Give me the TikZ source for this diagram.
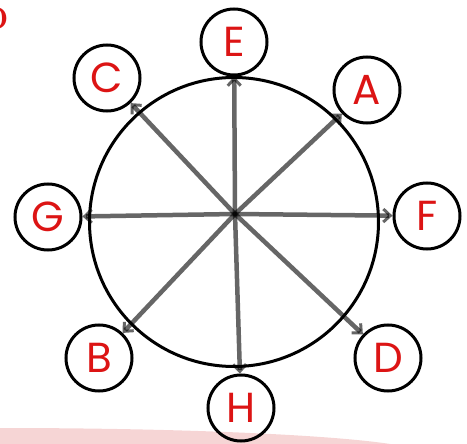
\documentclass[tikz,border=0pt]{standalone}
\usepackage{fontspec}
\newfontfamily\hand{Poppins}
\usetikzlibrary{arrows.meta,backgrounds}
\definecolor{letred}{RGB}{220,20,20}
\definecolor{bandpink}{RGB}{246,213,213}
\begin{document}
\begin{tikzpicture}[x=1pt,y=-1pt,
  ring/.style={circle,draw=black,line width=3pt,minimum size=66pt,inner sep=0pt,
    font=\hand\fontsize{42}{42}\selectfont,text=letred},
  bigring/.style={circle,draw=black,line width=3pt,minimum size=289pt,inner sep=0pt},
  ray/.style={draw=black,opacity=0.6,line width=4.5pt,
    -{Straight Barb[length=7pt,width=13pt,line width=3pt]}}]
\useasboundingbox (0,0) rectangle (467,444);
\clip (0,0) rectangle (467,444);
\node[font=\bfseries\fontsize{32}{32}\selectfont, text=letred, anchor=base east] (dtext) at (12,30) {D};
\node[bigring] (big) at (234,222) {};
\coordinate (hub) at (235,214);
\node[ring] (E) at (234,42) {E};
\node[ring] (A) at (367,90) {A};
\node[ring] (F) at (427,216) {F};
\node[ring] (D) at (388,358) {D};
\node[ring] (H) at (241,408) {H};
\node[ring] (B) at (99,358) {B};
\node[ring] (G) at (48,217) {G};
\node[ring] (C) at (107,78) {C};
\begin{pgfonlayer}{background}
\fill[bandpink] (0,453.4) ellipse [x radius=420, y radius=25.4];
\foreach \t in {E,A,F,D,H,B,G,C}{
  \draw[ray] (hub) -- (\t);
}
\end{pgfonlayer}
\end{tikzpicture}
\end{document}
